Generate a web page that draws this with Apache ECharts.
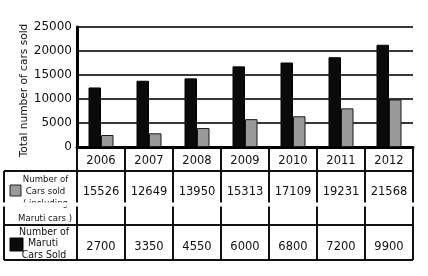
<!DOCTYPE html>
<html><head><meta charset="utf-8">
<script src="https://cdn.jsdelivr.net/npm/echarts@6/dist/echarts.min.js"></script>
<style>html,body{margin:0;padding:0;background:#fff}#c{width:428px;height:276px}</style>
</head><body><div id="c"></div>
<script>
var years = ['2006','2007','2008','2009','2010','2011','2012'];
var blackBars = [12400, 13800, 14300, 16800, 17600, 18700, 21300];
var grayBars = [2500, 2850, 3950, 5800, 6400, 8050, 9900];
var tableTotal = ['15526','12649','13950','15313','17109','19231','21568'];
var tableMaruti = ['2700','3350','4550','6000','6800','7200','9900'];
var yTicks = [0, 5000, 10000, 15000, 20000, 25000];
var FONT = 'DejaVu Sans';
var FONTC = 'DejaVu Sans Condensed, DejaVu Sans';

var chart = echarts.init(document.getElementById('c'), null, {renderer:'canvas'});
var option = {
  animation:false,
  backgroundColor:'#fff',
  grid:{left:77, right:15, top:27, bottom:129},
  xAxis:{type:'category', data:years,
    axisLine:{show:true, lineStyle:{color:'#000', width:3}},
    axisTick:{show:false},
    axisLabel:{fontFamily:FONT, fontSize:11.5, color:'#111', margin:8}},
  yAxis:{type:'value', min:yTicks[0], max:yTicks[yTicks.length-1], interval:5000,
    axisLine:{show:true, lineStyle:{color:'#000', width:3}},
    axisTick:{show:false},
    splitLine:{lineStyle:{color:'#383838', width:2}},
    axisLabel:{fontFamily:FONT, fontSize:12, color:'#111', margin:5, padding:[0,0,5,0],
      formatter:function(v){ return String(v); }}},
  series:[
    {type:'bar', data:blackBars, barWidth:12.5, barGap:'0%',
     itemStyle:{color:'#0a0a0a', borderColor:'#000', borderWidth:1}},
    {type:'bar', data:grayBars, barWidth:12.5, barGap:'0%',
     itemStyle:{color:'#999999', borderColor:'#1a1a1a', borderWidth:1}}
  ]
};
chart.setOption(option);

var g = [];
function line(x1,y1,x2,y2){ g.push({type:'line', z:100, shape:{x1:x1,y1:y1,x2:x2,y2:y2}, style:{stroke:'#111', lineWidth:2}}); }
function txt(s,x,y,size,font){ g.push({type:'text', z:110, x:x, y:y, style:{text:s, fontFamily:font||FONT, fontSize:size, fill:'#111', align:'center', verticalAlign:'middle'}}); }

var c0 = chart.convertToPixel({xAxisIndex:0}, 0);
var c1 = chart.convertToPixel({xAxisIndex:0}, 1);
var band = c1 - c0;
var left = c0 - band/2;
var right = left + band*years.length;
var yAxis0 = 147, r1 = 171, r2 = 225, r3 = 260, x0 = 4;

line(x0, r1, right, r1);
line(x0, r2, right, r2);
line(x0, r3, right, r3);
line(x0, r1, x0, r3);
for (var i=0;i<=years.length;i++){ var xx = left + band*i; line(xx, yAxis0, xx, r3); }

for (var j=0;j<years.length;j++){
  var cx = chart.convertToPixel({xAxisIndex:0}, j);
  txt(tableTotal[j], cx, 192, 11.5);
  txt(tableMaruti[j], cx, 247, 11.5);
}
// legend cells
g.push({type:'rect', z:110, shape:{x:10,y:185,width:11,height:11}, style:{fill:'#999999', stroke:'#222', lineWidth:1}});
g.push({type:'rect', z:110, shape:{x:10,y:238,width:13,height:13}, style:{fill:'#0a0a0a', stroke:'#000', lineWidth:1}});
txt('Number of', 45.5, 179.5, 9.5, FONTC);
txt('Cars sold', 45.5, 191.5, 9.5, FONTC);
txt('( including', 45.5, 204, 9.5, FONTC);
txt('Maruti cars )', 45, 219, 9.5, FONTC);
txt('Number of', 44, 232, 10.5, FONTC);
txt('Maruti', 43, 243.5, 10.5, FONTC);
txt('Cars Sold', 44, 255, 10.5, FONTC);
// axis title
g.push({type:'text', z:110, x:24, y:90.5, rotation:Math.PI/2, style:{text:'Total number of cars sold', fontFamily:FONT, fontSize:10.6, fill:'#111', align:'center', verticalAlign:'middle'}});
// white splice strip
g.push({type:'rect', z:200, shape:{x:0, y:202.5, width:428, height:4}, style:{fill:'#fff'}});

chart.setOption({graphic:g});
</script></body></html>
